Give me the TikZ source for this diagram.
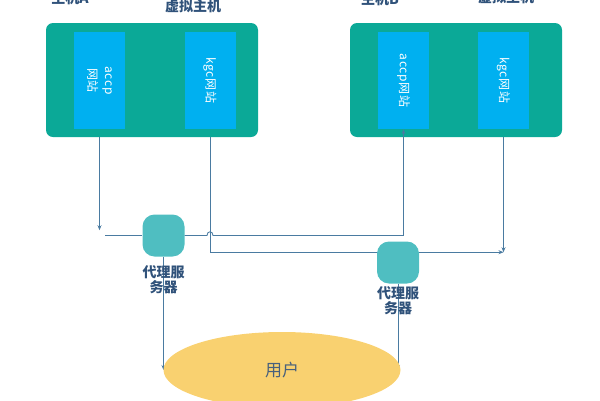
\documentclass[tikz,border=0pt]{standalone}
\usepackage{fontspec}
\setmainfont{Noto Sans CJK SC}
\usepackage{xcolor}
\usepackage{tikz}
\usetikzlibrary{positioning, arrows.meta, backgrounds, calc, shapes.geometric}
\definecolor{hostteal}{HTML}{0BA997}
\definecolor{siteblue}{HTML}{00B0F0}
\definecolor{proxyteal}{HTML}{4FBEC1}
\definecolor{useryellow}{HTML}{F9D170}
\definecolor{linkblue}{HTML}{4A7BA1}
\definecolor{labelnavy}{HTML}{30527A}

\begin{document}
\begin{tikzpicture}[x=1pt, y=-1pt,
  host/.style={fill=hostteal, rounded corners=7pt, minimum width=212pt, minimum height=114pt, inner sep=0pt},
  site/.style={fill=siteblue, minimum width=51pt, minimum height=97pt, inner sep=0pt},
  sitetext/.style={text=white, rotate=-90, align=center, inner sep=0pt,
    font=\fontsize{12}{17}\selectfont\addfontfeature{LetterSpace=6}},
  proxy/.style={fill=proxyteal, rounded corners=12pt, minimum size=42pt, inner sep=0pt},
  caption/.style={text=labelnavy, align=center, inner sep=1pt,
    font=\fontsize{14}{15}\selectfont\bfseries},
  link/.style={linkblue, line width=0.8pt},
  tip/.style={-{Stealth[length=5pt, width=4pt]}}]
  \useasboundingbox (0,0) rectangle (600,400);

  % two hosts with their sites
  \node[host] (hostA) at (152,80) {};
  \node[site] (accpA) at (99.5,80.5) {};
  \node[site] (kgcA) at (210,80.5) {};
  \node[sitetext] (accpAtext) at (accpA) {accp\\网站};
  \node[sitetext] (kgcAtext) at (kgcA) {kgc网站};
  \node[caption] (hostAname) at (70,-2) {主机A};
  \node[caption] (vhostAname) at (193,6) {虚拟主机};

  \node[host] (hostB) at (456,80) {};
  \node[site] (accpB) at (403.5,80.5) {};
  \node[site] (kgcB) at (503.5,80.5) {};
  \node[sitetext] (accpBtext) at (accpB) {accp网站};
  \node[sitetext] (kgcBtext) at (kgcB) {kgc网站};
  \node[caption] (hostBname) at (380,-1) {主机B};
  \node[caption] (vhostBname) at (506,-3) {虚拟主机};

  % proxies and user
  \node[proxy] (proxyA) at (163.5,235.5) {};
  \node[caption, below=8pt of proxyA] (proxyAname) {代理服\\务器};
  \node[proxy] (proxyB) at (398,262.5) {};
  \node[caption, below=2pt of proxyB] (proxyBname) {代理服\\务器};
  \node[ellipse, fill=useryellow, minimum width=237pt, minimum height=76pt, inner sep=0pt,
        text=labelnavy!70!gray, font=\fontsize{17}{17}\selectfont] (user) at (282,370) {用户};

  \coordinate (accpEnd) at ($(hostA.south -| accpA.south)+(0,93)$);
  \coordinate (stubL) at ($(proxyA.west)+(-37,0)$);
  \coordinate (jumpL) at ($(proxyA.east -| kgcA.south)+(-3,0)$);
  \coordinate (jumpR) at ($(proxyA.east -| kgcA.south)+(3,0)$);
  \coordinate (busB) at ($(kgcB.south)+(0,123)$);

  \draw[link, tip] (proxyA.east) -- (jumpL)
    .. controls ($(jumpL)+(0,-5)$) and ($(jumpR)+(0,-5)$) .. (jumpR)
    -- (proxyA.east -| accpB.south) -- (accpB.south);
  \begin{scope}[on background layer]
    \draw[link, tip] (hostA.south -| accpA.south) -- (accpEnd);
    \draw[link] (stubL) -- (proxyA.west);
    \draw[link, tip] (hostA.south -| kgcA.south) -- (kgcA.south |- busB) -- (busB);
    \draw[link, tip] (hostB.south -| kgcB.south) -- (busB);
    \draw[link, tip] (proxyA.south) -- (proxyA.south |- user.west);
    \draw[link, tip] (proxyB.south) -- (proxyB.south |- user.east);
  \end{scope}
\end{tikzpicture}
\end{document}
